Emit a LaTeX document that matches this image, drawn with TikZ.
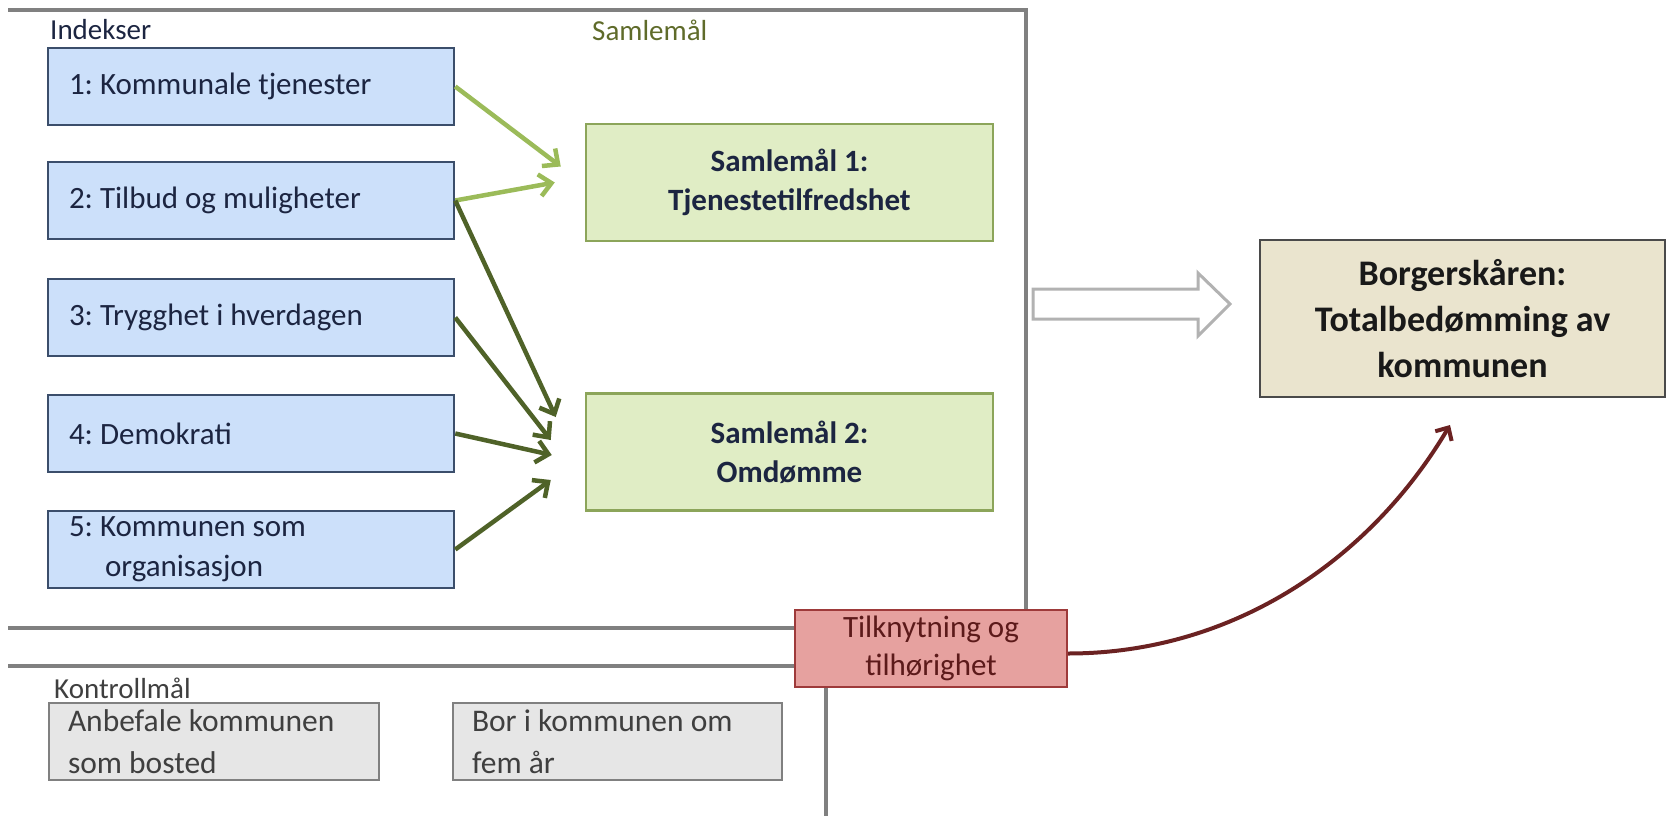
\documentclass[tikz,border=0pt]{standalone}
\usepackage{fontspec}
\setmainfont{Carlito}
\usetikzlibrary{arrows.meta}
\definecolor{indeksfill}{HTML}{CCE0FA}
\definecolor{indeksline}{HTML}{3B4E6B}
\definecolor{indekstext}{HTML}{1C2541}
\definecolor{samlefill}{HTML}{E0EDC5}
\definecolor{samleline}{HTML}{8CA55A}
\definecolor{samlelabel}{HTML}{5F6B2A}
\definecolor{borgerfill}{HTML}{EAE4CE}
\definecolor{borgerline}{HTML}{4A4A4A}
\definecolor{tilkfill}{HTML}{E6A19F}
\definecolor{tilkline}{HTML}{9E3A3A}
\definecolor{tilktext}{HTML}{5C1A1A}
\definecolor{kontrollfill}{HTML}{E6E6E6}
\definecolor{kontrolltext}{HTML}{3F3F3F}
\definecolor{framegray}{HTML}{808080}
\definecolor{litegreen}{HTML}{9BBB59}
\definecolor{darkgreen}{HTML}{4F6228}
\definecolor{curvered}{HTML}{6B2222}
\frenchspacing
\begin{document}
\begin{tikzpicture}[x=1pt,y=-1pt,
    indeks/.style={draw=indeksline,fill=indeksfill,line width=2.5pt,text width=364pt,
        inner xsep=21pt,inner ysep=2pt,minimum height=77pt,align=flush left,text=indekstext,
        font=\fontsize{31}{40}\selectfont},
    samle/.style={draw=samleline,fill=samlefill,line width=2.5pt,minimum width=407pt,
        minimum height=117pt,align=center,text=indekstext,font=\bfseries\fontsize{31}{39}\selectfont},
    kontroll/.style={draw=framegray,fill=kontrollfill,line width=2pt,inner xsep=19pt,
        inner ysep=2pt,minimum height=77pt,align=flush left,text=kontrolltext,
        font=\fontsize{31.5}{42}\selectfont},
    lbl/.style={anchor=west,inner sep=0pt,font=\fontsize{29}{34}\selectfont},
    frame/.style={draw=framegray,line width=4.5pt},
    litearrow/.style={draw=litegreen,line width=4.5pt,-{Straight Barb[length=12pt,width=22pt]}},
    darkarrow/.style={draw=darkgreen,line width=4.5pt,-{Straight Barb[length=12pt,width=22pt]}}]
\useasboundingbox (0,0) rectangle (1667,816);
% frame lines
\draw[frame] (8,10) -- (1026,10) -- (1026,610);
\draw[frame] (8,628) -- (795,628);
\draw[frame] (8,666) -- (795,666);
\draw[frame] (826,687) -- (826,816);
% labels
\node[lbl,text=indekstext] (indekser) at (50,30) {Indekser};
\node[lbl,text=samlelabel] (samlelbl) at (592,30) {Samlemål};
\node[lbl,text=kontrolltext] (kontrolllbl) at (54,688) {Kontrollmål};
% indekser
\node[indeks] (i1) at (251,86.5) {1: Kommunale tjenester};
\node[indeks] (i2) at (251,200.5) {2: Tilbud og muligheter};
\node[indeks] (i3) at (251,317.5) {3: Trygghet i hverdagen};
\node[indeks] (i4) at (251,433.5) {4: Demokrati};
\node[indeks] (i5) at (251,549.5) {5: Kommunen som\\\hspace*{36pt}organisasjon};
% samlemaal
\node[samle] (s1) at (789.5,182.5) {Samlemål 1:\\Tjenestetilfredshet};
\node[samle] (s2) at (789.5,452) {Samlemål 2:\\Omdømme};
\draw[litearrow] (i1.east) -- ([xshift=-24pt,yshift=16pt]s1.west);
\draw[litearrow] (i2.east) -- ([xshift=-30pt]s1.west);
\draw[darkarrow] (i2.east) -- ([xshift=-29pt,yshift=35pt]s2.west);
\draw[darkarrow] (i3.east) -- ([xshift=-34pt,yshift=12pt]s2.west);
\draw[darkarrow] (i4.east) -- ([xshift=-33pt,yshift=-3pt]s2.west);
\draw[darkarrow] (i5.east) -- ([xshift=-34pt,yshift=-28pt]s2.west);
% borgerskaaren
\draw[draw=black!30,fill=white,line width=3pt] (1033,289) -- (1198,289) -- (1198,273)
    -- (1230,304) -- (1198,336) -- (1198,319) -- (1033,319) -- cycle;
\node[draw=borgerline,fill=borgerfill,line width=2.5pt,minimum width=405pt,minimum height=157pt,
    align=center,font=\bfseries\fontsize{36}{46}\selectfont,text=black!90] (borger) at (1462.5,318.5)
    {Borgerskåren:\\Totalbedømming av\\kommunen};
% tilknytning
\node[draw=tilkline,fill=tilkfill,line width=2pt,minimum width=272pt,minimum height=77pt,
    inner ysep=2pt,align=center,text=tilktext,font=\fontsize{31}{38}\selectfont] (tilk) at (931,648.5)
    {Tilknytning og\\tilhørighet};
\coordinate (btip) at (1450,425);
\draw[curvered,line width=4pt,-{Straight Barb[length=10pt,width=19pt]}]
    ([yshift=-5pt]tilk.east) .. controls +(165,0) and +(-80,135) .. (btip);
% kontrollmaal
\node[kontroll,text width=292pt] (k1) at (214,741.5) {Anbefale kommunen\\som bosted};
\node[kontroll,text width=291pt] (k2) at (617.5,741.5) {Bor i kommunen om\\fem år};
\end{tikzpicture}
\end{document}
